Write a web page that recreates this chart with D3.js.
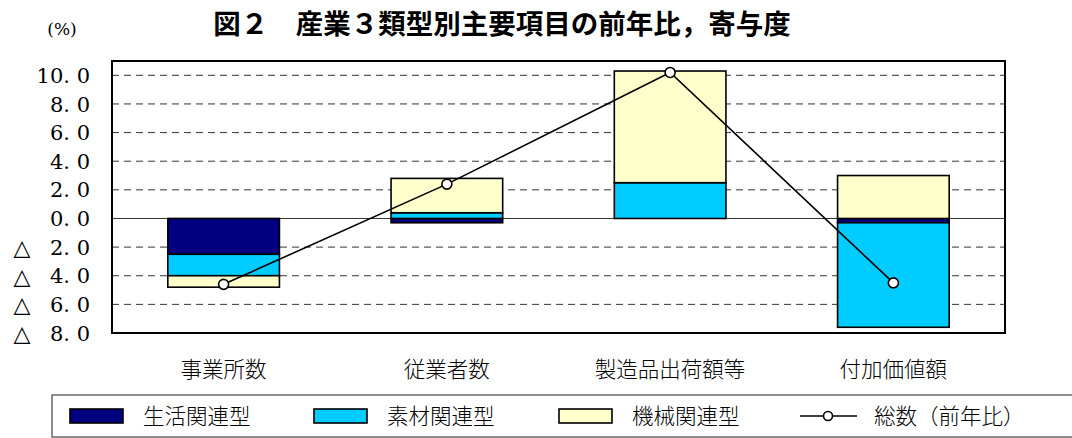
<!DOCTYPE html>
<html lang="ja">
<head>
<meta charset="utf-8">
<script src="https://cdn.jsdelivr.net/npm/d3@7"></script>
<style>
  html, body { margin: 0; padding: 0; background: #fff; }
  svg { display: block; }
</style>
</head>
<body>
<svg id="chart" width="1072" height="438"></svg>
<script>
// Categories (x axis)
const categories = ["事業所数", "従業者数", "製造品出荷額等", "付加価値額"];

// Contribution by industry type (percentage points)
const livingRelated    = [-2.5, -0.3, 0.0, -0.3];  // 生活関連型
const materialRelated  = [-1.5,  0.4, 2.5, -7.3];  // 素材関連型
const machineryRelated = [-0.8,  2.4, 7.8,  3.0];  // 機械関連型

// Total year-on-year change (%)
const totalYoY = [-4.6, 2.4, 10.2, -4.5];

// Y axis ticks
const yTicks = [-8, -6, -4, -2, 0, 2, 4, 6, 8, 10];

const seriesNames  = ["生活関連型", "素材関連型", "機械関連型"];
const seriesColors = ["#000080", "#00ccff", "#ffffcc"];
const lineName = "総数（前年比）";

const CJK = "'Noto Sans CJK JP', 'Noto Sans', sans-serif";
const SERIF = "'DejaVu Serif', 'Times New Roman', 'Liberation Serif', serif";

const svg = d3.select("#chart");

const plot = { left: 112, right: 1005, top: 61, bottom: 333 };

const x = d3.scaleBand()
  .domain(categories)
  .range([plot.left, plot.right])
  .paddingInner(0.5)
  .paddingOuter(0.25);

const y = d3.scaleLinear()
  .domain([-8, 11])
  .range([plot.bottom, plot.top]);

// Rows for the stack layout
const rows = categories.map((c, i) => ({
  category: c,
  s0: livingRelated[i],
  s1: materialRelated[i],
  s2: machineryRelated[i]
}));
const stacked = d3.stack()
  .keys(["s0", "s1", "s2"])
  .offset(d3.stackOffsetDiverging)(rows);

// Title and unit
svg.append("text")
  .attr("font-family", CJK)
  .attr("x", 502).attr("y", 34)
  .attr("text-anchor", "middle")
  .attr("font-size", 27.5)
  .attr("font-weight", 700)
  .text("図２　産業３類型別主要項目の前年比，寄与度");

svg.append("text")
  .style("font-family", SERIF)
  .attr("x", 62).attr("y", 35)
  .attr("text-anchor", "middle")
  .attr("font-size", 17)
  .text("(%)");

// Dashed gridlines
svg.append("g")
  .selectAll("line")
  .data(yTicks.filter(t => t !== 0 && t !== -8))
  .join("line")
  .attr("x1", plot.left).attr("x2", plot.right)
  .attr("y1", d => y(d)).attr("y2", d => y(d))
  .attr("stroke", "#333")
  .attr("stroke-width", 1)
  .attr("stroke-dasharray", "7,5");

// Zero line
svg.append("line")
  .attr("x1", plot.left).attr("x2", plot.right)
  .attr("y1", y(0)).attr("y2", y(0))
  .attr("stroke", "#333")
  .attr("stroke-width", 1);

// Stacked bars
svg.append("g")
  .selectAll("g")
  .data(stacked)
  .join("g")
  .attr("fill", (d, i) => seriesColors[i])
  .selectAll("rect")
  .data(d => d.filter(p => p[0] !== p[1]))
  .join("rect")
  .attr("x", d => x(d.data.category))
  .attr("width", x.bandwidth())
  .attr("y", d => y(Math.max(d[0], d[1])))
  .attr("height", d => Math.abs(y(d[0]) - y(d[1])))
  .attr("stroke", "#000")
  .attr("stroke-width", 1.6);

// Plot frame
svg.append("rect")
  .attr("x", plot.left).attr("y", plot.top)
  .attr("width", plot.right - plot.left)
  .attr("height", plot.bottom - plot.top)
  .attr("fill", "none")
  .attr("stroke", "#000")
  .attr("stroke-width", 2);

// Total line with markers
const line = d3.line()
  .x((d, i) => x(categories[i]) + x.bandwidth() / 2)
  .y(d => y(d));

svg.append("path")
  .datum(totalYoY)
  .attr("d", line)
  .attr("fill", "none")
  .attr("stroke", "#000")
  .attr("stroke-width", 1.6);

svg.append("g")
  .selectAll("circle")
  .data(totalYoY)
  .join("circle")
  .attr("cx", (d, i) => x(categories[i]) + x.bandwidth() / 2)
  .attr("cy", d => y(d))
  .attr("r", 5)
  .attr("fill", "#fff")
  .attr("stroke", "#000")
  .attr("stroke-width", 1.6);

// Y tick labels (negatives marked with △)
const yLab = svg.append("g");
yLab.selectAll("text.v")
  .data(yTicks)
  .join("text")
  .attr("class", "v")
  .style("font-family", SERIF)
  .attr("font-size", 21)
  .attr("x", 90)
  .attr("y", d => y(d))
  .attr("dy", "0.36em")
  .attr("text-anchor", "end")
  .text(d => Math.abs(d).toFixed(1).replace(".", ". "));
yLab.selectAll("text.tri")
  .data(yTicks.filter(t => t < 0))
  .join("text")
  .attr("class", "tri")
  .attr("x", 22)
  .attr("y", d => y(d))
  .attr("dy", "0.36em")
  .attr("text-anchor", "middle")
  .style("font-family", "'DejaVu Sans', sans-serif")
  .attr("font-size", 22)
  .text("△");

// Category labels
svg.append("g")
  .attr("font-family", CJK)
  .attr("font-size", 21.5)
  .attr("font-weight", 300)
  .selectAll("text")
  .data(categories)
  .join("text")
  .attr("x", d => x(d) + x.bandwidth() / 2)
  .attr("y", 369)
  .attr("dy", "0.35em")
  .attr("text-anchor", "middle")
  .text(d => d);

// Legend
const legend = svg.append("g").attr("font-family", CJK).attr("font-weight", 300);
legend.append("rect")
  .attr("x", 52).attr("y", 395)
  .attr("width", 1040).attr("height", 42)
  .attr("fill", "#fff")
  .attr("stroke", "#444")
  .attr("stroke-width", 1.2);

const legendX = [70, 314, 559];
seriesNames.forEach((name, i) => {
  legend.append("rect")
    .attr("x", legendX[i]).attr("y", 409)
    .attr("width", 53).attr("height", 14)
    .attr("fill", seriesColors[i])
    .attr("stroke", "#000")
    .attr("stroke-width", 1.6);
  legend.append("text")
    .attr("x", legendX[i] + 73).attr("y", 416)
    .attr("dy", "0.35em")
    .attr("font-size", 21.5)
    .text(name);
});

legend.append("line")
  .attr("x1", 800).attr("x2", 857)
  .attr("y1", 416).attr("y2", 416)
  .attr("stroke", "#000").attr("stroke-width", 1.6);
legend.append("circle")
  .attr("cx", 828).attr("cy", 416).attr("r", 4.5)
  .attr("fill", "#fff").attr("stroke", "#000").attr("stroke-width", 1.6);
legend.append("text")
  .attr("x", 874).attr("y", 416)
  .attr("dy", "0.35em")
  .attr("font-size", 21.5)
  .text(lineName);
</script>
</body>
</html>
